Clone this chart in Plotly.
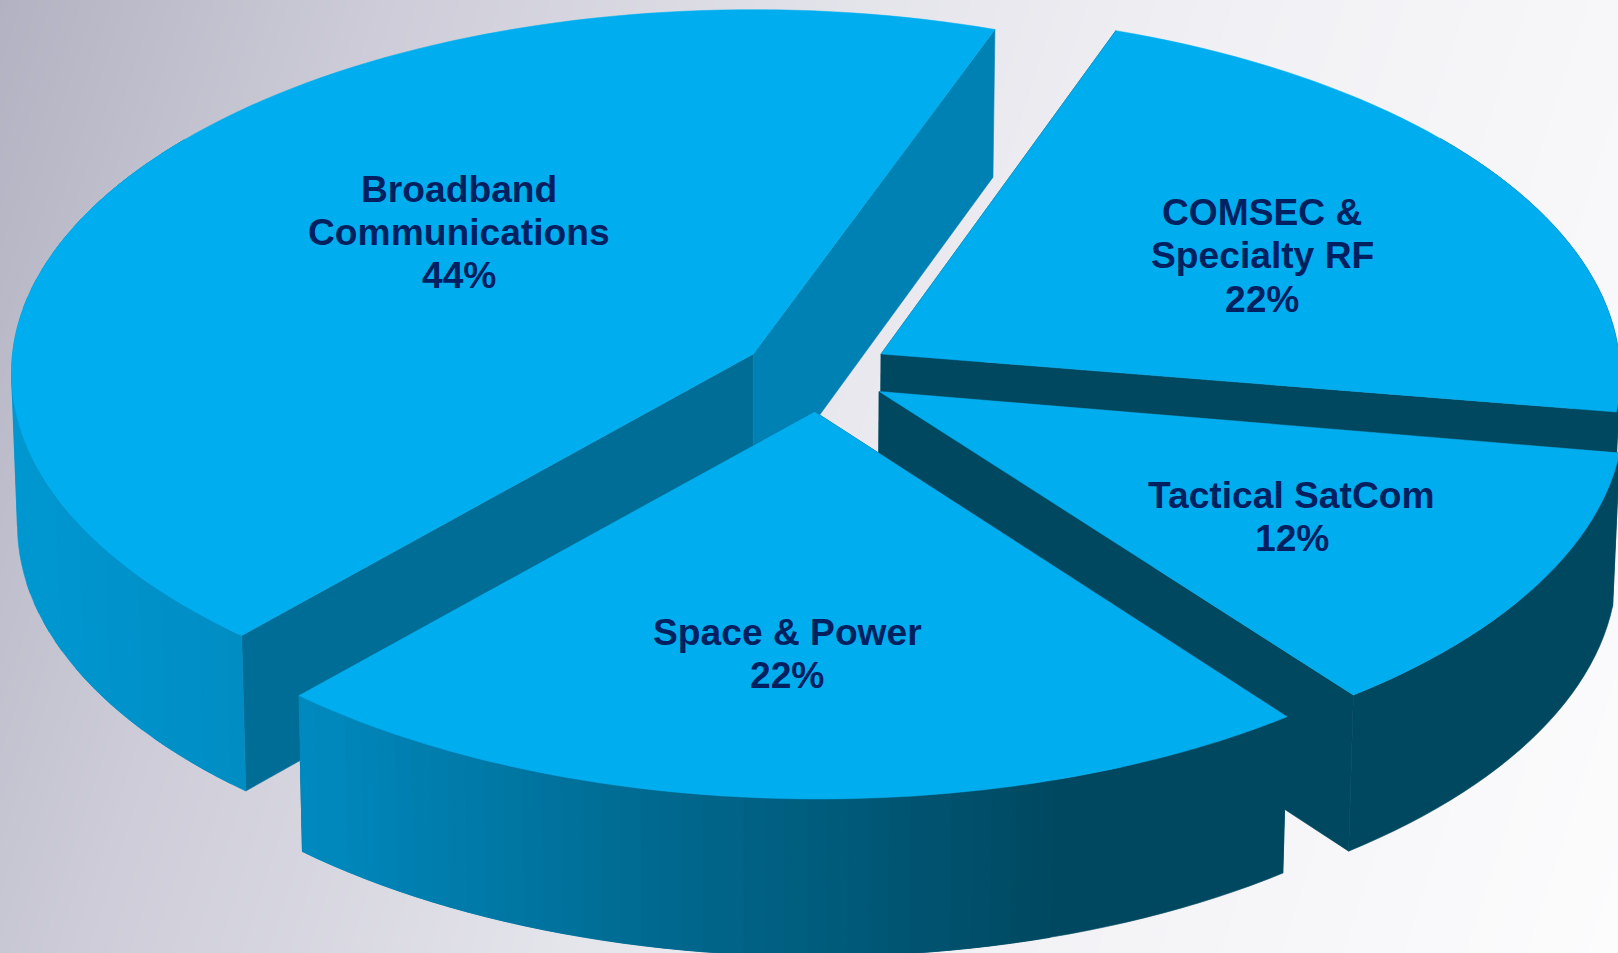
import numpy as np
import plotly.graph_objects as go

# Revenue share by business segment
segments = ["COMSEC & Specialty RF", "Tactical SatCom", "Space & Power", "Broadband Communications"]
shares = [22, 12, 22, 44]
label_lines = [["COMSEC &", "Specialty RF"], ["Tactical SatCom"], ["Space & Power"], ["Broadband", "Communications"]]

# Ground-plane offset of each exploded slice (unit radius = pie radius)
explode_u = [0.172, 0.1685, 0.082, 0.0]
explode_v = [0.0, 0.103, 0.158, 0.0]
# Small per-slice refinements of the pull-out: radius scale and turn in degrees
slice_radius = [0.993, 0.995, 0.994, 0.997]
slice_turn = [0.0, 0.4, 0.4, 0.0]

# Label anchor: centre x and baseline of the first line, in page pixels
label_x = [1262, 1291.5, 787, 458.5]
label_base = [224.5, 507.5, 644, 201]
LINE_STEP = 43.3

WIDTH, HEIGHT = 1618, 953
START_ANGLE = -70.0
CX, CY = 753.3, 353.9
A, B, K = 743.0, 363.2, 0.052
DEPTH = 152.0
TAPER = 0.992

TOP = "#00AEEF"
NAVY = "#002060"
CUT_COLOURS = [("#004860", "#004860"), ("#004860", "#004860"),
               ("#004860", "#004860"), ("#006D97", "#0081B3")]
WALL_X = [0, 300, 620, 1060, WIDTH]
WALL_RGB = [(0, 152, 210), (0, 138, 192), (0, 108, 148), (0, 72, 96), (0, 72, 96)]


def project(u, v):
    w = 1 - K * v
    return CX + A * u / w, CY + B * v / w


def lower(x, y, v):
    return CX + (x - CX) * TAPER, y + DEPTH * (1 + 0.03 * v)


def wall_colour(x):
    r, g, b = (np.interp(x, WALL_X, [c[i] for c in WALL_RGB]) for i in range(3))
    return f"rgb({r:.0f},{g:.0f},{b:.0f})"


def polygon(xs, ys, colour, width=0.6):
    return go.Scatter(x=list(xs), y=list(ys), mode="lines", fill="toself", fillcolor=colour,
                      line=dict(color=colour, width=width, simplify=False),
                      hoverinfo="skip", showlegend=False)


fig = go.Figure()

# Page background: soft grey-lavender to white sweep
gx = np.linspace(0, WIDTH, 9)
gy = np.linspace(0, HEIGHT, 9)
fig.add_trace(go.Heatmap(
    x=gx, y=gy, z=[[xx / WIDTH * 0.84 + yy / HEIGHT * 0.16 for xx in gx] for yy in gy],
    zmin=0, zmax=1, zsmooth="best", showscale=False, hoverinfo="skip",
    colorscale=[[0, "#B3B2C2"], [0.2, "#CDCCD8"], [0.45, "#E4E4EB"], [0.65, "#F1F1F5"], [1, "#FCFCFD"]],
))

# Slice sweeps come straight from the shares
sweeps = [s / sum(shares) * 360 for s in shares]
starts = START_ANGLE + np.concatenate(([0], np.cumsum(sweeps)[:-1]))

# Paint from back to front: Broadband, COMSEC, Tactical, Space
for i in [3, 0, 1, 2]:
    a0, sweep = starts[i] + slice_turn[i], sweeps[i]
    n = max(int(sweep / 1.5), 4)
    angles = np.radians(np.linspace(a0, a0 + sweep, n + 1))
    u = explode_u[i] + slice_radius[i] * np.cos(angles)
    v = explode_v[i] + slice_radius[i] * np.sin(angles)
    ax, ay = project(u, v)
    bx, by = lower(ax, ay, v)
    px, py = project(explode_u[i], explode_v[i])
    qx, qy = lower(px, py, explode_v[i])

    # Cut faces from the apex to each end of the arc
    for end, colour in zip((0, -1), CUT_COLOURS[i]):
        fig.add_trace(polygon([px, ax[end], bx[end], qx, px], [py, ay[end], by[end], qy, py], colour))

    # Rim: consecutive arc steps of one shade form a single polygon, and each
    # polygon runs one step into the next so no seam opens between them.
    # A run stops where the arc turns back in x, so the polygon never folds.
    # The far side of the rim sits under the top face, so it can be skipped.
    visible = [j for j in range(n) if np.sin(angles[j]) > -0.6 or np.sin(angles[j + 1]) > -0.6]
    keys = [(wall_colour((ax[j] + ax[j + 1]) / 2), ax[j + 1] > ax[j]) for j in visible]
    k = 0
    while k < len(visible):
        m = k
        while m + 1 < len(visible) and keys[m + 1] == keys[k]:
            m += 1
        first = visible[k]
        # Overlap the next step only while the arc keeps heading the same way
        overlap = m + 1 < len(visible) and keys[m + 1][1] == keys[k][1]
        last = min(visible[m] + (2 if overlap else 1), n)
        idx = list(range(first, last + 1))
        fig.add_trace(polygon(np.r_[ax[idx], bx[idx][::-1], ax[first]],
                              np.r_[ay[idx], by[idx][::-1], ay[first]], keys[k][0]))
        k = m + 1

    # Top face
    fig.add_trace(polygon(np.r_[px, ax, px], np.r_[py, ay, py], TOP, 0.5))

# Labels: one annotation per line to hold the tight leading
for lines, share, lx, base in zip(label_lines, shares, label_x, label_base):
    for k, text in enumerate(lines + [f"{share}%"]):
        fig.add_annotation(x=lx, y=base + k * LINE_STEP - 12.5, xref="x", yref="y", showarrow=False,
                           text=f"<b>{text}</b>", xanchor="center", yanchor="middle",
                           font=dict(family="Liberation Sans", size=37.2, color=NAVY))

fig.update_layout(
    width=WIDTH, height=HEIGHT, margin=dict(l=0, r=0, t=0, b=0),
    paper_bgcolor="white", plot_bgcolor="white", showlegend=False,
    xaxis=dict(range=[0, WIDTH], visible=False, fixedrange=True),
    yaxis=dict(range=[HEIGHT, 0], visible=False, fixedrange=True),
)
fig.write_html("out.html", config=dict(displayModeBar=False))
